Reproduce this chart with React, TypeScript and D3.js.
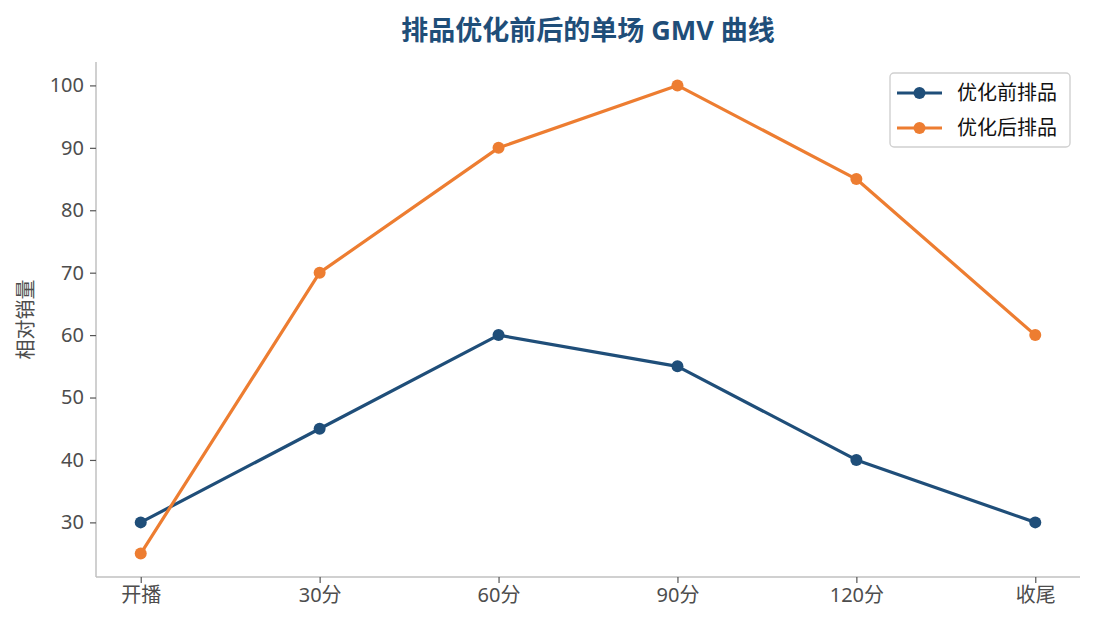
import React, { useEffect, useRef } from 'react';
import * as d3 from 'd3';

// categories and series
const stages: string[] = ['开播', '30分', '60分', '90分', '120分', '收尾'];
const beforeValues: number[] = [30, 45, 60, 55, 40, 30];
const afterValues: number[] = [25, 70, 90, 100, 85, 60];
const yTicks: number[] = [30, 40, 50, 60, 70, 80, 90, 100];

const seriesNames = ['优化前排品', '优化后排品'];
const seriesColors = ['#1f4e79', '#ed7d31'];

const FONT = '"Noto Sans", "Noto Sans CJK SC", sans-serif';

const App = () => {
  const ref = useRef<SVGSVGElement>(null);

  useEffect(() => {
    if (!ref.current) return;
    const svg = d3.select(ref.current);
    svg.selectAll('*').remove();

    const W = 1095;
    const H = 630;
    const margin = { top: 62, right: 15, bottom: 53, left: 96 };
    const width = W - margin.left - margin.right;
    const height = H - margin.top - margin.bottom;

    const g = svg.append('g').attr('transform', `translate(${margin.left},${margin.top})`);

    // x: point scale with matplotlib-like 5% padding
    const x = d3.scalePoint<string>().domain(stages).range([0, width]).padding(0.25);

    const allVals = beforeValues.concat(afterValues);
    const lo = d3.min(allVals) || 0;
    const hi = d3.max(allVals) || 0;
    const pad = (hi - lo) * 0.05;
    const y = d3.scaleLinear().domain([lo - pad, hi + pad]).range([height, 0]);

    // spines
    g.append('line')
      .attr('x1', 0).attr('x2', 0).attr('y1', 0).attr('y2', height)
      .attr('stroke', '#c0c0c0').attr('stroke-width', 1.5);
    g.append('line')
      .attr('x1', 0).attr('x2', width).attr('y1', height).attr('y2', height)
      .attr('stroke', '#c0c0c0').attr('stroke-width', 1.5);

    // y axis
    const yAxis = g.append('g')
      .call(d3.axisLeft(y).tickValues(yTicks).tickSize(6).tickPadding(6));
    yAxis.select('.domain').remove();
    yAxis.selectAll('line').attr('stroke', '#555').attr('stroke-width', 1.2);
    yAxis.selectAll('text')
      .attr('fill', '#4d4d4d').style('font-size', '20px').style('font-family', FONT);

    // x axis
    const xAxis = g.append('g')
      .attr('transform', `translate(0,${height})`)
      .call(d3.axisBottom(x).tickSize(6).tickPadding(5));
    xAxis.select('.domain').remove();
    xAxis.selectAll('line').attr('stroke', '#555').attr('stroke-width', 1.2);
    xAxis.selectAll('text')
      .attr('fill', '#4d4d4d').style('font-size', '20px').style('font-family', FONT);

    // y label
    g.append('text')
      .attr('transform', 'rotate(-90)')
      .attr('x', -height / 2)
      .attr('y', -63)
      .attr('text-anchor', 'middle')
      .attr('fill', '#4d4d4d')
      .style('font-size', '20px')
      .style('font-family', FONT)
      .text('相对销量');

    // title
    svg.append('text')
      .attr('x', margin.left + width / 2)
      .attr('y', 40)
      .attr('text-anchor', 'middle')
      .attr('fill', '#1f4e79')
      .style('font-size', '27px')
      .style('font-weight', 'bold')
      .style('font-family', FONT)
      .text('排品优化前后的单场 GMV 曲线');

    const line = d3.line<number>()
      .x((_, i) => x(stages[i]) || 0)
      .y(d => y(d));

    [beforeValues, afterValues].forEach((vals, si) => {
      g.append('path')
        .datum(vals)
        .attr('fill', 'none')
        .attr('stroke', seriesColors[si])
        .attr('stroke-width', 3.2)
        .attr('stroke-linejoin', 'round')
        .attr('d', line);
      g.selectAll(`.dot${si}`)
        .data(vals)
        .enter()
        .append('circle')
        .attr('cx', (_, i) => x(stages[i]) || 0)
        .attr('cy', d => y(d))
        .attr('r', 6)
        .attr('fill', seriesColors[si]);
    });

    // legend
    const lg = svg.append('g').attr('transform', 'translate(890,73)');
    lg.append('rect')
      .attr('width', 180).attr('height', 74).attr('rx', 4)
      .attr('fill', 'white').attr('fill-opacity', 0.8)
      .attr('stroke', '#d0d0d0').attr('stroke-width', 1.4);
    seriesNames.forEach((name, i) => {
      const cy = 20 + i * 35;
      lg.append('line')
        .attr('x1', 7).attr('x2', 52).attr('y1', cy).attr('y2', cy)
        .attr('stroke', seriesColors[i]).attr('stroke-width', 3.2);
      lg.append('circle')
        .attr('cx', 29.5).attr('cy', cy).attr('r', 6).attr('fill', seriesColors[i]);
      lg.append('text')
        .attr('x', 67).attr('y', cy)
        .attr('dy', '0.35em')
        .attr('fill', '#111')
        .style('font-size', '20px')
        .style('font-family', FONT)
        .text(name);
    });
  }, []);

  return (
    <svg ref={ref} width={1095} height={630} style={{ display: 'block', position: 'absolute', left: 0, top: 0, background: 'white' }} />
  );
};

export default App;
